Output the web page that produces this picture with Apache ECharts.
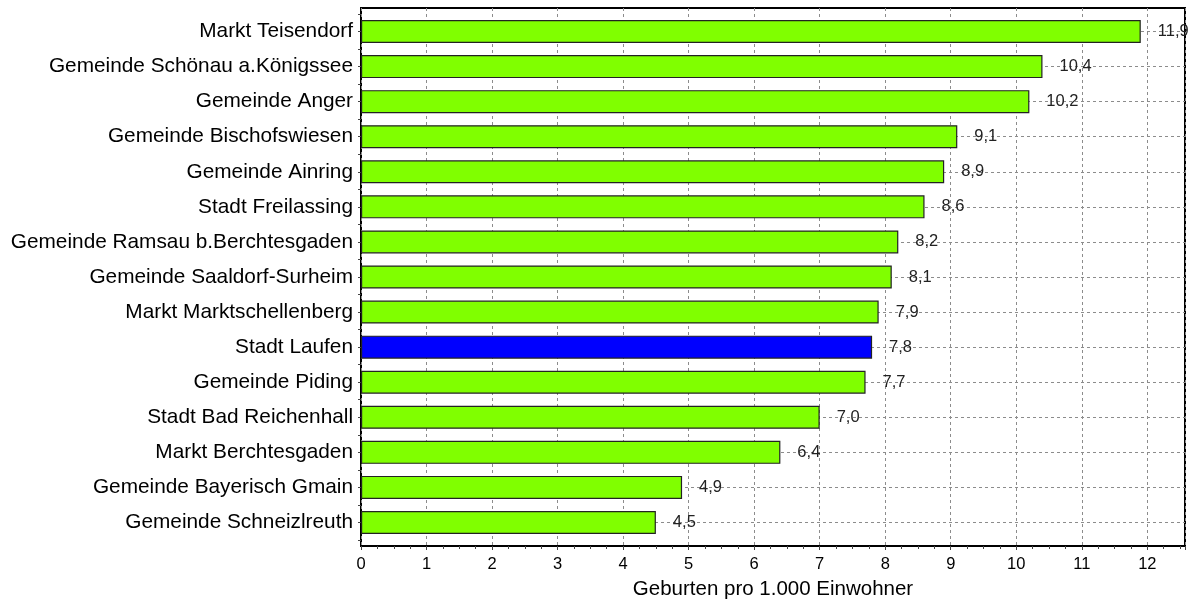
<!DOCTYPE html>
<html>
<head>
<meta charset="utf-8">
<script src="https://cdn.jsdelivr.net/npm/echarts@6/dist/echarts.min.js"></script>
<style>
  html, body { margin: 0; padding: 0; background: #fff; }
  #chart { width: 1200px; height: 600px; }
</style>
</head>
<body>
<div id="chart"></div>
<script>
// Geburten pro 1.000 Einwohner, von oben nach unten
var gemeinden = [
  'Markt Teisendorf',
  'Gemeinde Schönau a.Königssee',
  'Gemeinde Anger',
  'Gemeinde Bischofswiesen',
  'Gemeinde Ainring',
  'Stadt Freilassing',
  'Gemeinde Ramsau b.Berchtesgaden',
  'Gemeinde Saaldorf-Surheim',
  'Markt Marktschellenberg',
  'Stadt Laufen',
  'Gemeinde Piding',
  'Stadt Bad Reichenhall',
  'Markt Berchtesgaden',
  'Gemeinde Bayerisch Gmain',
  'Gemeinde Schneizlreuth'
];
var geburten = [11.9, 10.4, 10.2, 9.1, 8.9, 8.6, 8.2, 8.1, 7.9, 7.8, 7.7, 7.0, 6.4, 4.9, 4.5];
var hervorgehoben = 'Stadt Laufen';
var xMax = 12.575;

var font = "'Liberation Sans', Arial, sans-serif";
var chart = echarts.init(document.getElementById('chart'));

var barData = geburten.map(function (v, i) {
  return {
    value: v,
    itemStyle: { color: gemeinden[i] === hervorgehoben ? '#0000ff' : '#80ff00' }
  };
});

var option = {
  backgroundColor: '#fff',
  animation: false,
  textStyle: { fontFamily: font },
  grid: [
    { left: 361, right: 15, top: 14, bottom: 60, outerBoundsMode: 'none', containLabel: false },
    // Rahmen
    { left: 361, right: 15, top: 8, bottom: 54, outerBoundsMode: 'none', containLabel: false,
      show: true, borderColor: '#000', borderWidth: 2, backgroundColor: 'transparent' }
  ],
  xAxis: [
    {
      gridIndex: 0,
      type: 'value',
      min: 0,
      max: xMax,
      interval: 1,
      offset: 6,
      name: 'Geburten pro 1.000 Einwohner',
      nameLocation: 'middle',
      nameGap: 33,
      nameTextStyle: { fontSize: 20.5, color: '#000', fontFamily: font },
      axisLine: { show: false },
      axisTick: { show: true, length: 4, lineStyle: { color: '#444' } },
      minorTick: { show: true, splitNumber: 4, length: 3, lineStyle: { color: '#444' } },
      axisLabel: { color: '#000', fontSize: 16.5, margin: 10, showMaxLabel: false, fontFamily: font },
      splitLine: { show: false }
    },
    {
      gridIndex: 1,
      type: 'value',
      min: 0,
      max: xMax,
      interval: 1,
      axisLine: { show: false },
      axisTick: { show: false },
      axisLabel: { show: false },
      splitLine: { show: true, lineStyle: { type: [3, 3], color: '#8c8c8c', width: 1 } }
    }
  ],
  yAxis: [
    {
      gridIndex: 0,
      type: 'category',
      data: gemeinden,
      inverse: true,
      axisLine: { show: false },
      axisTick: { show: true, alignWithLabel: true, length: 3, lineStyle: { color: '#444' } },
      axisLabel: { color: '#000', fontSize: 20.8, margin: 8, fontFamily: font },
      splitLine: { show: false }
    },
    {
      gridIndex: 0,
      type: 'category',
      data: gemeinden,
      inverse: true,
      position: 'left',
      axisLine: { show: false },
      axisTick: { show: true, length: 3, lineStyle: { color: '#444' } },
      axisLabel: { show: false },
      splitLine: { show: false }
    },
    { gridIndex: 1, type: 'value', show: false }
  ],
  series: [
    {
      // gestrichelte Linien durch die Kategorien
      type: 'line',
      xAxisIndex: 0,
      yAxisIndex: 0,
      data: [],
      silent: true,
      markLine: {
        silent: true,
        symbol: ['none', 'none'],
        label: { show: false },
        lineStyle: { type: [3, 3], color: '#8c8c8c', width: 1 },
        data: gemeinden.map(function (g) { return { yAxis: g }; })
      }
    },
    {
      type: 'bar',
      xAxisIndex: 0,
      yAxisIndex: 0,
      zlevel: 1,
      barWidth: 23,
      data: barData,
      itemStyle: { borderColor: '#222', borderWidth: 1.2 },
      label: {
        show: true,
        position: 'right',
        distance: 17,
        color: '#222',
        fontSize: 16.5,
        fontFamily: font,
        formatter: function (p) { return p.value.toFixed(1).replace('.', ','); }
      }
    }
  ]
};

chart.setOption(option);
</script>
</body>
</html>
